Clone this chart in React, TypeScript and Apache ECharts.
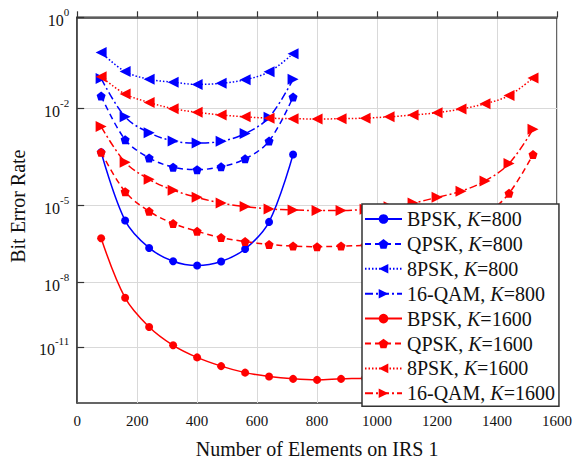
import React, { useEffect, useRef } from "react";
import * as echarts from "echarts";

// ---- data (BER values) ----
const X_K800 = [80, 160, 240, 320, 400, 480, 560, 640, 720];
const X_K1600 = [80, 160, 240, 320, 400, 480, 560, 640, 720, 800, 880, 960, 1040, 1120, 1200, 1280, 1360, 1440, 1520];

const BPSK_800 = [4.5e-4, 2.6e-6, 2.2e-7, 6.6e-8, 4.5e-8, 6.5e-8, 2.0e-7, 2.3e-6, 3.8e-4];
const QPSK_800 = [0.019, 1.1e-3, 3.0e-4, 1.55e-4, 1.3e-4, 1.6e-4, 2.8e-4, 1.0e-3, 0.018];
const PSK8_800 = [0.17, 0.065, 0.044, 0.038, 0.034, 0.036, 0.043, 0.064, 0.16];
const QAM16_800 = [0.046, 5.6e-3, 1.8e-3, 1.0e-3, 8.6e-4, 9.8e-4, 1.7e-3, 5.4e-3, 0.044];

const BPSK_1600 = [5.3e-7, 1.9e-9, 8.5e-11, 1.2e-11, 3.3e-12, 1.3e-12, 6.5e-13, 4.3e-13, 3.35e-13, 3.0e-13, 3.35e-13, 3.6e-13, 4.2e-13, 5.4e-13, 8.0e-13, 1.6e-12, 4.9e-12, 4.0e-11, 2.9e-9];
const QPSK_1600 = [4.5e-4, 2.7e-5, 6.0e-6, 2.0e-6, 9.9e-7, 5.6e-7, 3.9e-7, 3.0e-7, 2.6e-7, 2.45e-7, 2.6e-7, 2.8e-7, 3.35e-7, 4.6e-7, 7.1e-7, 1.45e-6, 4.2e-6, 2.4e-5, 3.8e-4];
const PSK8_1600 = [0.05, 0.021, 0.0137, 0.01, 7.7e-3, 6.4e-3, 5.6e-3, 5.1e-3, 4.9e-3, 4.8e-3, 4.9e-3, 5.1e-3, 5.6e-3, 6.4e-3, 7.5e-3, 9.8e-3, 0.0128, 0.0194, 0.047];
const QAM16_1600 = [2.8e-3, 2.2e-4, 6.5e-5, 3.0e-5, 1.8e-5, 1.2e-5, 9.2e-6, 7.4e-6, 6.8e-6, 6.4e-6, 6.4e-6, 7.2e-6, 9.0e-6, 1.2e-5, 1.8e-5, 2.8e-5, 5.8e-5, 2.0e-4, 2.3e-3];

const SERIES_NAMES = [
  "BPSK, K=800", "QPSK, K=800", "8PSK, K=800", "16-QAM, K=800",
  "BPSK, K=1600", "QPSK, K=1600", "8PSK, K=1600", "16-QAM, K=1600",
];

// y-axis tick labels (exponents of 10) and the figure's non-uniform scale
const TICK_EXP = [0, -2, -5, -8, -11];
const TICK_POS = [0, 92.7, 191, 268.7, 334.4];
const Y_MAX = 391.2;

function toV(ber: number): number {
  const e = Math.log10(ber);
  for (let i = 0; i < TICK_EXP.length - 1; i++) {
    if (e >= TICK_EXP[i + 1]) {
      const f = (TICK_EXP[i] - e) / (TICK_EXP[i] - TICK_EXP[i + 1]);
      return TICK_POS[i] + f * (TICK_POS[i + 1] - TICK_POS[i]);
    }
  }
  const n = TICK_EXP.length - 1;
  const f = (TICK_EXP[n] - e) / (TICK_EXP[n - 1] - TICK_EXP[n]);
  return TICK_POS[n] + f * (TICK_POS[n] - TICK_POS[n - 1]);
}

const FONT = "'Liberation Serif', 'Times New Roman', serif";
const BLUE = "#0000ff";
const RED = "#ff0000";
const PENTAGON = "path://M0,-10L9.51,-3.09L5.88,8.09L-5.88,8.09L-9.51,-3.09Z";

export default function App() {
  const ref = useRef<HTMLDivElement>(null);
  useEffect(() => {
    if (!ref.current) return;
    const chart = echarts.init(ref.current, null, { renderer: "svg" });

    const styles = [
      { symbol: "circle", size: 8, rot: 0, dash: "solid" as any },
      { symbol: PENTAGON, size: 9, rot: 0, dash: [6, 4] },
      { symbol: "triangle", size: 11, rot: 90, dash: [1.5, 2] },
      { symbol: "triangle", size: 11, rot: -90, dash: [8, 3, 2, 3] },
    ];
    const groups = [
      { xs: X_K800, color: BLUE, data: [BPSK_800, QPSK_800, PSK8_800, QAM16_800] },
      { xs: X_K1600, color: RED, data: [BPSK_1600, QPSK_1600, PSK8_1600, QAM16_1600] },
    ];
    const series: any[] = [];
    groups.forEach((g, gi) => {
      g.data.forEach((vals, si) => {
        const st = styles[si];
        series.push({
          name: SERIES_NAMES[gi * 4 + si],
          type: "line",
          smooth: 0.35,
          data: vals.map((v, i) => [g.xs[i], toV(v)]),
          symbol: st.symbol,
          symbolSize: st.size,
          symbolRotate: st.rot,
          showAllSymbol: true,
          lineStyle: { color: g.color, width: 1.5, type: st.dash },
          itemStyle: { color: g.color },
          emphasis: { disabled: true },
        });
      });
    });

    chart.setOption({
      animation: false,
      backgroundColor: "#ffffff",
      grid: {
        left: 74.7,
        right: 14,
        top: 17.3,
        bottom: 55.5,
        show: true,
        borderColor: "#333",
        borderWidth: 1.5,
      },
      legend: {
        orient: "vertical",
        left: 362,
        top: 204,
        padding: [5, 4, 3, 2],
        itemWidth: 37,
        itemHeight: 12,
        itemGap: 4.9,
        backgroundColor: "#ffffff",
        borderColor: "#333",
        borderWidth: 1.5,
        symbolRotate: "inherit",
        data: SERIES_NAMES,
        formatter: (name: string) => name.replace(", K=", ", {i|K}="),
        textStyle: {
          fontFamily: FONT,
          fontSize: 20,
          lineHeight: 20,
          color: "#111",
          rich: {
            i: { fontFamily: FONT, fontSize: 20, fontStyle: "italic", color: "#111" },
          },
        },
      },
      xAxis: {
        type: "value",
        min: 0,
        max: 1600,
        interval: 200,
        name: "Number of Elements on IRS 1",
        nameLocation: "middle",
        nameGap: 36,
        nameTextStyle: { fontFamily: FONT, fontSize: 20, color: "#111" },
        axisLine: { show: true, lineStyle: { color: "#333", width: 1.5 } },
        axisTick: { show: true, inside: true, length: 6, lineStyle: { color: "#333", width: 1.2 } },
        axisLabel: {
          fontFamily: FONT,
          fontSize: 15,
          color: "#111",
          margin: 10,
          formatter: (v: number) => String(v),
        },
        splitLine: { show: true, lineStyle: { color: "#d9d9d9", width: 1 } },
      },
      yAxis: {
        type: "value",
        min: 0,
        max: Y_MAX,
        inverse: true,
        name: "Bit Error Rate",
        nameLocation: "middle",
        nameGap: 44,
        nameTextStyle: { fontFamily: FONT, fontSize: 20, color: "#111", padding: [0, 0, 0, 8] },
        axisLine: { show: true, lineStyle: { color: "#333", width: 1.5 } },
        axisTick: {
          show: true,
          inside: true,
          length: 7,
          customValues: TICK_POS,
          lineStyle: { color: "#333", width: 1.2 },
        },
        axisLabel: {
          customValues: TICK_POS,
          margin: 8,
          formatter: (val: number) => {
            const idx = TICK_POS.findIndex((p) => Math.abs(p - val) < 0.05);
            if (idx < 0) return "";
            return `{b|10}{s|${TICK_EXP[idx]}}`;
          },
          rich: {
            b: { fontFamily: FONT, fontSize: 16, color: "#111", lineHeight: 22, verticalAlign: "bottom" },
            s: { fontFamily: FONT, fontSize: 11, color: "#111", lineHeight: 12, verticalAlign: "top" },
          },
        },
        splitLine: { show: true, lineStyle: { color: "#d9d9d9", width: 1 } },
      },
      series,
    });
    return () => chart.dispose();
  }, []);

  return (
    <div
      ref={ref}
      style={{ position: "fixed", left: 0, top: 0, width: 575, height: 464, background: "#fff" }}
    />
  );
}
